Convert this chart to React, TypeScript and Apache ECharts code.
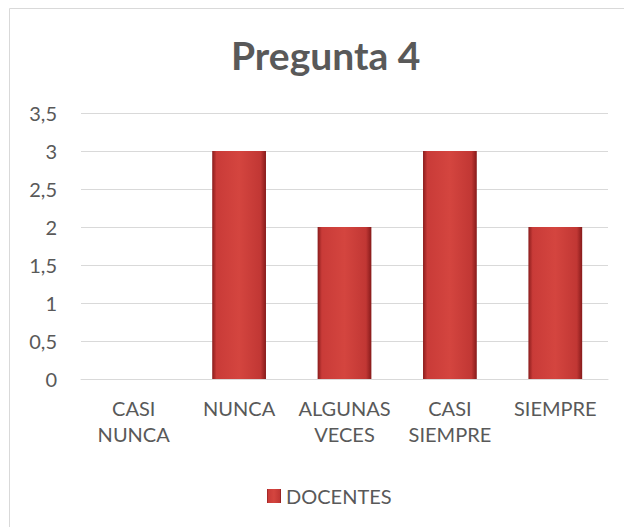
import React, { useEffect, useRef } from "react";
import * as echarts from "echarts";

const categories = ["CASI\nNUNCA", "NUNCA", "ALGUNAS\nVECES", "CASI\nSIEMPRE", "SIEMPRE"];
const docentes = [0, 3, 2, 3, 2];
const seriesName = "DOCENTES";
const titleText = "Pregunta 4";

const FONT = "Lato, 'Open Sans', sans-serif";

export default function App() {
  const ref = useRef<HTMLDivElement>(null);
  useEffect(() => {
    if (!ref.current) return;
    const chart = echarts.init(ref.current, null, { renderer: "svg" });
    const barColor = new echarts.graphic.LinearGradient(0, 0, 1, 0, [
      { offset: 0, color: "#8a1c1c" },
      { offset: 0.08, color: "#c93b38" },
      { offset: 0.5, color: "#d4453f" },
      { offset: 0.9, color: "#c13734" },
      { offset: 1, color: "#861a1a" },
    ]);
    chart.setOption({
      animation: false,
      backgroundColor: "#ffffff",
      textStyle: { fontFamily: FONT },
      title: {
        text: titleText,
        left: 226,
        top: 30,
        textStyle: { fontFamily: FONT, fontSize: 39, fontWeight: "bold", color: "#595959" },
      },
      graphic: [
        {
          type: "rect",
          shape: { x: 9.5, y: 8.5, width: 700, height: 600 },
          style: { fill: "none", stroke: "#d9d9d9", lineWidth: 1 },
          silent: true,
        },
      ],
      legend: {
        top: 481,
        left: 262,
        itemWidth: 14,
        itemHeight: 14,
        itemGap: 6,
        textStyle: { fontFamily: FONT, fontSize: 20, color: "#595959" },
        data: [{ name: seriesName, icon: "rect" }],
      },
      grid: { left: 81, right: 16, top: 113, bottom: 148, containLabel: false },
      xAxis: {
        type: "category",
        data: categories,
        axisLine: { lineStyle: { color: "#d9d9d9", width: 1 } },
        axisTick: { show: false },
        axisLabel: {
          fontFamily: FONT,
          fontSize: 20,
          color: "#595959",
          lineHeight: 26,
          margin: 16,
          interval: 0,
        },
      },
      yAxis: {
        type: "value",
        min: 0,
        max: 3.5,
        interval: 0.5,
        axisLine: { show: false },
        axisTick: { show: false },
        splitLine: { lineStyle: { color: "#d9d9d9", width: 1 } },
        axisLabel: {
          fontFamily: FONT,
          fontSize: 20,
          color: "#595959",
          margin: 24,
          formatter: (v: number) => String(v).replace(".", ","),
        },
      },
      series: [
        {
          name: seriesName,
          type: "bar",
          data: docentes,
          barWidth: "51%",
          itemStyle: { color: barColor },
        },
      ],
    });
    return () => chart.dispose();
  }, []);
  return (
    <div
      ref={ref}
      style={{ position: "fixed", left: 0, top: 0, width: 624, height: 527 }}
    />
  );
}
